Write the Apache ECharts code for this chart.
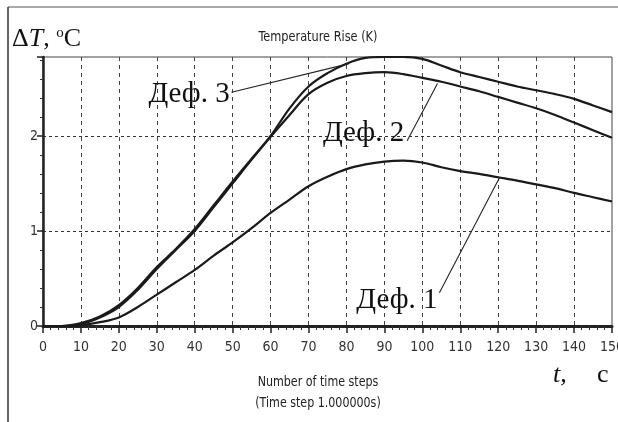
<!DOCTYPE html>
<html><head><meta charset="utf-8">
<script src="https://cdn.jsdelivr.net/npm/echarts@6/dist/echarts.min.js"></script>
<style>html,body{margin:0;padding:0;background:#fff}#c{width:618px;height:422px}</style>
</head><body><div id="c"></div>
<script>
// time (s)
const times = [0,5,10,15,20,25,30,35,40,45,50,55,60,65,70,75,80,85,90,95,100,105,110,115,120,125,130,135,140,145,150];
// ΔT, Деф. 1
const def1 = [0,0,0.01,0.04,0.09,0.2,0.33,0.46,0.59,0.74,0.88,1.03,1.19,1.33,1.47,1.57,1.65,1.70,1.73,1.74,1.72,1.67,1.63,1.60,1.565,1.53,1.49,1.45,1.40,1.355,1.31];
// ΔT, Деф. 2
const def2 = [0,0,0.02,0.09,0.2,0.38,0.6,0.8,1.0,1.25,1.5,1.75,1.99,2.22,2.44,2.56,2.63,2.66,2.67,2.65,2.61,2.57,2.52,2.47,2.41,2.35,2.29,2.22,2.14,2.06,1.98];
// ΔT, Деф. 3
const def3 = [0,0,0.03,0.1,0.22,0.4,0.62,0.81,1.02,1.27,1.52,1.76,2.0,2.29,2.52,2.66,2.76,2.82,2.83,2.83,2.81,2.74,2.67,2.62,2.57,2.52,2.48,2.44,2.39,2.32,2.25];
const xTicks = {min:0, max:150, interval:10};
const yTicks = {min:0, max:2.83, interval:1};
const seriesNames = ['Деф. 1','Деф. 2','Деф. 3'];
// annotation: [label, text right-end (t, ΔT), leader start (t, ΔT), curve point (t, ΔT)]
const notes = [
  ['Деф. 1', [104, 0.27], [104.5, 0.35], [120.4, 1.565]],
  ['Деф. 2', [95.2, 2.03], [96, 1.95], [104, 2.55]],
  ['Деф. 3', [49.2, 2.44], [49.7, 2.46], [80.7, 2.76]]
];

const chart = echarts.init(document.getElementById('c'), null, {renderer:'canvas'});
const narrow = '"Liberation Sans Narrow","DejaVu Sans Condensed","Arial Narrow","Liberation Sans",sans-serif';
const serif = '"Liberation Serif","DejaVu Serif",serif';
const mk = (arr) => times.map((t,i)=>[t,arr[i]]);
const datas = [def1, def2, def3];
const option = {
  animation:false,
  backgroundColor:'#fff',
  grid:{left:43, top:57, right:6, bottom:96, outerBoundsMode:'none', containLabel:false, show:true, borderColor:'#444', borderWidth:1},
  xAxis:{type:'value', min:xTicks.min, max:xTicks.max, interval:xTicks.interval,
    axisLine:{show:true, onZero:false, lineStyle:{color:'#222', width:3}},
    axisTick:{show:true, length:7, lineStyle:{color:'#222', width:1.5}},
    minorTick:{show:true, splitNumber:5, length:4, lineStyle:{color:'#333', width:1}},
    axisLabel:{color:'#333', fontFamily:narrow, fontSize:14, margin:14, showMaxLabel:true, hideOverlap:false},
    splitLine:{show:true, showMinLine:false, showMaxLine:false, lineStyle:{color:'#444', type:[4,4], width:1}}
  },
  yAxis:{type:'value', min:yTicks.min, max:yTicks.max, interval:yTicks.interval,
    axisLine:{show:true, onZero:false, lineStyle:{color:'#222', width:2.5}},
    axisTick:{show:true, length:6, lineStyle:{color:'#222', width:1.5}},
    minorTick:{show:true, splitNumber:5, length:3, lineStyle:{color:'#333', width:1}},
    axisLabel:{color:'#333', fontFamily:narrow, fontSize:14, margin:5, showMaxLabel:false},
    splitLine:{show:true, showMinLine:false, showMaxLine:false, lineStyle:{color:'#333', type:[3,3], width:1}}
  },
  series: datas.map((d,i)=>({
    name:seriesNames[i], type:'line', data:mk(d), smooth:0.35, showSymbol:false, clip:true,
    lineStyle:{color:'#1a1a1a', width:2.2}, z:3
  }))
};
chart.setOption(option);

const g = [
  {type:'line', shape:{x1:8,y1:7,x2:618,y2:7}, style:{stroke:'#555', lineWidth:1.2}, silent:true},
  {type:'line', shape:{x1:8,y1:7,x2:8,y2:422}, style:{stroke:'#333', lineWidth:1.5}, silent:true},
  {type:'text', x:318, y:37, scaleX:0.9, originX:0, originY:0, style:{text:'Temperature Rise (K)', font:'14px '+narrow, fill:'#222', align:'center', verticalAlign:'middle'}},
  {type:'text', x:318, y:382, scaleX:0.88, originX:0, originY:0, style:{text:'Number of time steps', font:'14px '+narrow, fill:'#222', align:'center', verticalAlign:'middle'}},
  {type:'text', x:318, y:403, scaleX:0.88, originX:0, originY:0, style:{text:'(Time step 1.000000s)', font:'14px '+narrow, fill:'#222', align:'center', verticalAlign:'middle'}},
  {type:'text', x:12, y:26, style:{rich:{a:{fontFamily:serif, fontSize:26, fill:'#111'}, b:{fontFamily:serif, fontSize:26, fontStyle:'italic', fill:'#111'}, s:{fontFamily:serif, fontSize:15, fill:'#111', verticalAlign:'top', padding:[0,0,10,0]}}, text:'{a|Δ}{b|T}{a|, }{s|o}{a|C}'}},
  {type:'text', x:553, y:362, style:{text:'t,', font:'italic 26px '+serif, fill:'#111'}},
  {type:'text', x:597, y:362, style:{text:'c', font:'26px '+serif, fill:'#111'}}
];
notes.forEach(n=>{
  const p = chart.convertToPixel({gridIndex:0}, n[1]);
  const s = chart.convertToPixel({gridIndex:0}, n[2]);
  const q = chart.convertToPixel({gridIndex:0}, n[3]);
  g.push({type:'text', x:p[0], y:p[1], style:{text:n[0], font:'29px '+serif, fill:'#111', align:'right', verticalAlign:'middle'}, z:10});
  g.push({type:'line', shape:{x1:s[0], y1:s[1], x2:q[0], y2:q[1]}, style:{stroke:'#222', lineWidth:1.1}, z:10});
});
chart.setOption({graphic:g});
</script></body></html>
